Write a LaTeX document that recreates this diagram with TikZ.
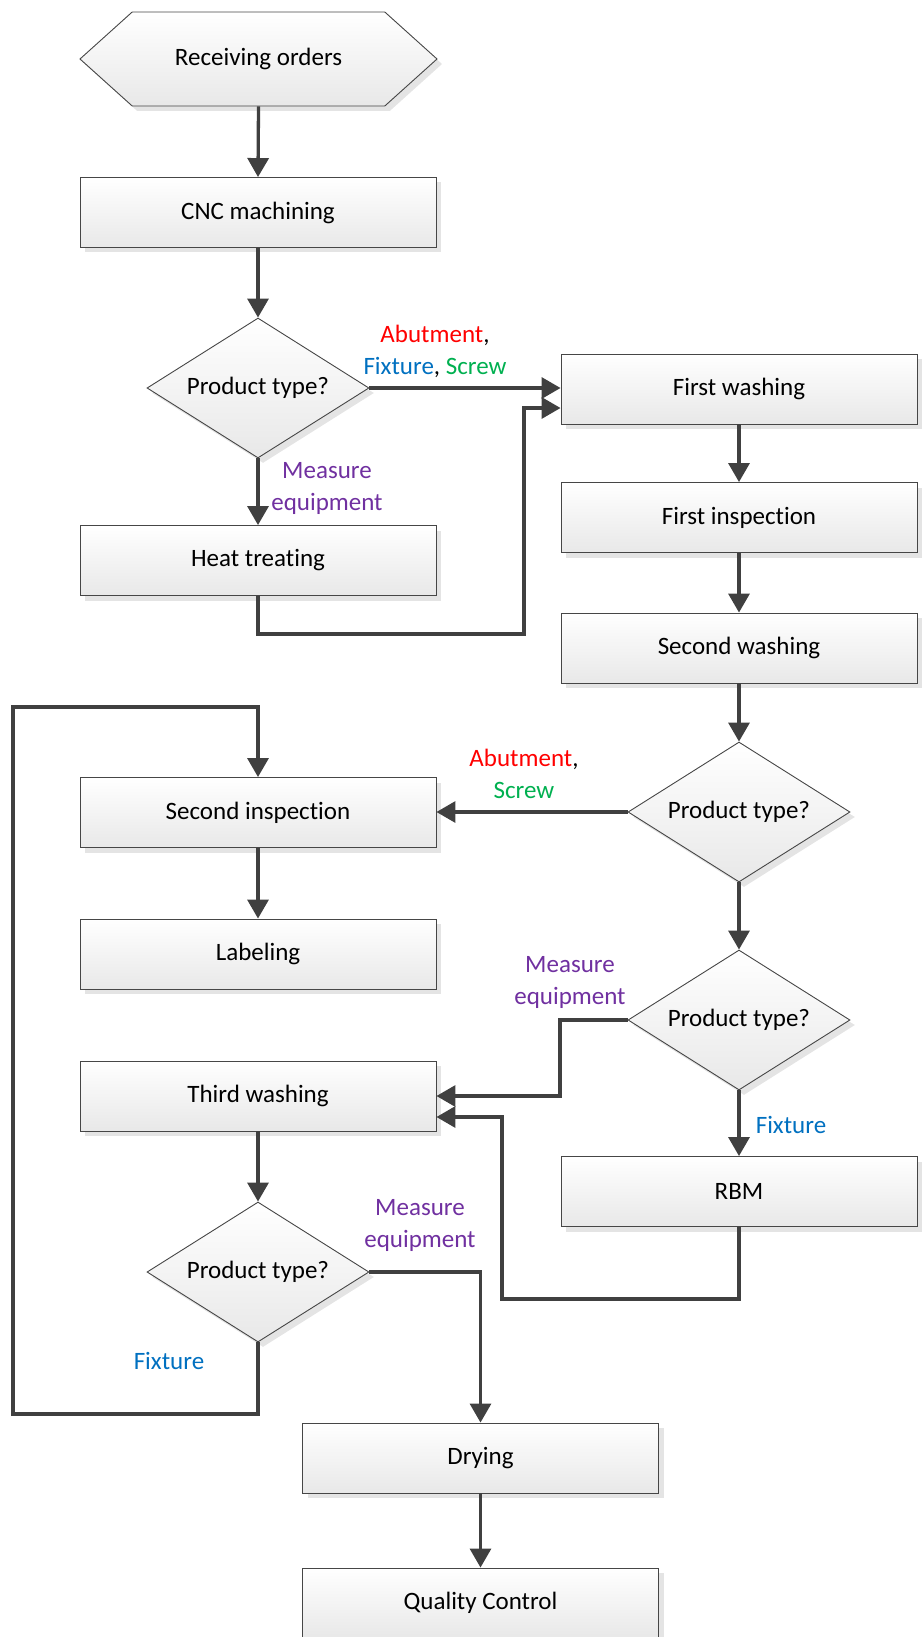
\documentclass[tikz,border=0pt]{standalone}
\usepackage{fontspec}
\setmainfont[Ligatures=NoCommon]{Carlito}
\usetikzlibrary{arrows.meta,shapes.geometric,shapes.symbols,shadows}
\definecolor{lineC}{RGB}{64,64,64}
\definecolor{edgeC}{RGB}{70,70,70}
\definecolor{shC}{RGB}{228,228,228}
\definecolor{lblRed}{RGB}{255,0,0}
\definecolor{lblBlue}{RGB}{0,112,192}
\definecolor{lblGreen}{RGB}{0,176,80}
\definecolor{lblPurple}{RGB}{112,48,160}
\begin{document}
\begin{tikzpicture}[x=1pt,y=-1pt,
  font=\fontsize{25}{32}\selectfont,
  boxbase/.style={draw=edgeC, line width=0.9pt, top color=white, bottom color=black!9,
    drop shadow={shadow xshift=5pt, shadow yshift=-5pt, fill=shC, opacity=1}},
  procbox/.style={boxbase, rectangle, minimum width=356pt, minimum height=70pt, inner sep=0pt},
  decision/.style={boxbase, diamond, minimum width=222pt, minimum height=140pt, inner sep=0pt, shape aspect=1.586},
  startbox/.style={boxbase, signal, signal to=east and west, signal pointer angle=84,
    minimum width=357pt, minimum height=94pt, inner sep=0pt},
  flow/.style={draw=lineC, line width=3.3pt, -{Triangle[length=19pt,width=21pt]}},
  lbl/.style={align=center, inner sep=0pt}
]
\useasboundingbox (0,0) rectangle (922,1637);

% nodes
\node[startbox] (recv) at (258.5,59) {Receiving orders};
\node[procbox] (cnc) at (258,212.5) {CNC machining};
\node[decision] (d1) at (258,388) {Product type?};
\node[procbox] (heat) at (258,560.5) {Heat treating};
\node[procbox] (wash1) at (739,389) {First washing};
\node[procbox] (insp1) at (739,517.5) {First inspection};
\node[procbox] (wash2) at (739,648) {Second washing};
\node[decision] (d2) at (739,812) {Product type?};
\node[procbox] (insp2) at (258,812.5) {Second inspection};
\node[procbox] (labl) at (258,954) {Labeling};
\node[decision] (d3) at (739,1020) {Product type?};
\node[procbox] (wash3) at (258,1096) {Third washing};
\node[procbox] (rbm) at (739,1191.5) {RBM};
\node[decision] (d4) at (258,1272) {Product type?};
\node[procbox] (dry) at (480.5,1458) {Drying};
\node[procbox] (qc) at (480.5,1603) {Quality Control};

% junction coordinates
\coordinate (j1) at (524,634);
\coordinate (j3) at (560,1096);
\coordinate (j4) at (502,1299);
\coordinate (j5) at (13,1414);
\coordinate (j6) at (13,707);

% connectors
\draw[flow] (recv.south) -- (cnc.north);
\draw[flow] (cnc.south) -- (d1.north);
\draw[flow] (d1.east) -- (d1.east -| wash1.west);
\draw[flow] (d1.south) -- (heat.north);
\draw[flow] (heat.south) |- (j1) |- ([yshift=-19pt]wash1.west);
\draw[flow] (wash1.south) -- (insp1.north);
\draw[flow] (insp1.south) -- (wash2.north);
\draw[flow] (wash2.south) -- (d2.north);
\draw[flow] (d2.west) -- (d2.west -| insp2.east);
\draw[flow] (insp2.south) -- (labl.north);
\draw[flow] (d2.south) -- (d3.north);
\draw[flow] (d3.west) -| (j3) -- (wash3.east);
\draw[flow] (d3.south) -- (rbm.north);
\draw[flow] (rbm.south) |- (j4) |- ([yshift=-21pt]wash3.east);
\draw[flow] (wash3.south) -- (d4.north);
\draw[flow] (d4.east) -| (dry.north);
\draw[flow] (d4.south) |- (j5) -- (j6) -| (insp2.north);
\draw[flow] (dry.south) -- (qc.north);

% labels
\node[lbl] (l1) at (435,351) {\textcolor{lblRed}{Abutment},\\\textcolor{lblBlue}{Fixture}, \textcolor{lblGreen}{Screw}};
\node[lbl, text=lblPurple] (l2) at (327,488) {Measure\\equipment};
\node[lbl] (l3) at (524,774) {\textcolor{lblRed}{Abutment},\\\textcolor{lblGreen}{Screw}};
\node[lbl, text=lblPurple] (l4) at (570,982) {Measure\\equipment};
\node[lbl, text=lblBlue] (l5) at (791,1125) {Fixture};
\node[lbl, text=lblPurple] (l6) at (420,1225) {Measure\\equipment};
\node[lbl, text=lblBlue] (l7) at (169,1361) {Fixture};
\end{tikzpicture}
\end{document}
